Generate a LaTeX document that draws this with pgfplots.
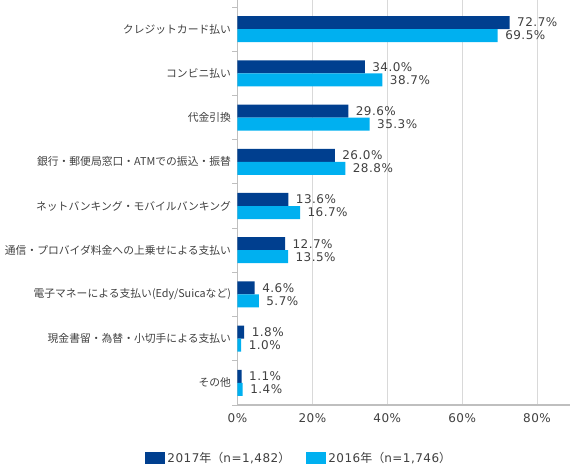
\documentclass[border=0pt]{standalone}
\usepackage{pgfplots}
\pgfplotsset{compat=1.18}
\usepackage{fontspec}
\setmainfont{DejaVu Sans}[LetterSpace=4]
\newfontfamily\jp{Noto Sans CJK JP}
\definecolor{c17}{HTML}{003F8F}
\definecolor{c16}{HTML}{00B0F0}
\definecolor{axgray}{HTML}{BFBFBF}
\definecolor{grd}{HTML}{D9D9D9}
\definecolor{txt}{HTML}{404040}
\begin{document}
\begin{tikzpicture}
\begin{axis}[
    name=ax,
    scale only axis,
    width=332.5pt, height=405pt,
    xmin=0, xmax=88.8,
    ymin=0.5, ymax=9.658,
    enlargelimits=false,
    axis x line*=bottom,
    axis y line*=left,
    axis line style={axgray, line width=1.6pt},
    xtick={0,20,40,60,80},
    xticklabels={0\%,20\%,40\%,60\%,80\%},
    xmajorgrids,
    x grid style={grd, line width=0.8pt},
    ytick={1,...,9},
    yticklabels={
        {その他},
        {現金書留・為替・小切手による支払い},
        {電子マネーによる支払い(Edy/Suicaなど)},
        {通信・プロバイダ料金への上乗せによる支払い},
        {ネットバンキング・モバイルバンキング},
        {銀行・郵便局窓口・ATMでの振込・振替},
        {代金引換},
        {コンビニ払い},
        {クレジットカード払い}},
    minor ytick={0.5,1.5,...,9.5},
    major tick length=0pt,
    minor tick length=5pt,
    tick style={axgray, line width=0.8pt},
    yticklabel style={font=\jp\fontsize{10.8}{13}\selectfont, text=txt, xshift=-3pt},
    xticklabel style={font=\fontsize{12}{14}\selectfont, text=txt, yshift=-5pt},
    xbar, bar width=13pt,
    point meta=x,
    /pgf/number format/assume math mode=true,
    nodes near coords={\pgfmathprintnumber[fixed,fixed zerofill,precision=1,assume math mode=true]{\pgfplotspointmeta}\%},
    every node near coord/.append style={font=\fontsize{12}{14}\selectfont, text=txt, anchor=west, xshift=4pt},
    legend style={at={(0.186,-0.131)}, anchor=center, draw=none, legend columns=2,
        font=\fontsize{12}{14}\selectfont, text=txt,
        /tikz/every even column/.style={column sep=14pt}},
]
\addplot[fill=c17, draw=none, bar shift=6.5pt,
    legend image code/.code={\fill[c17] (0pt,-6pt) rectangle (20pt,6pt);}]
    coordinates {(1.1,1) (1.8,2) (4.6,3) (12.7,4) (13.6,5) (26.0,6) (29.6,7) (34.0,8) (72.7,9)};
\addlegendentry{2017{\jp 年（}n=1,482{\jp ）}}
\addplot[fill=c16, draw=none, bar shift=-6.5pt,
    legend image code/.code={\fill[c16] (0pt,-6pt) rectangle (20pt,6pt);}]
    coordinates {(1.4,1) (1.0,2) (5.7,3) (13.5,4) (16.7,5) (28.8,6) (35.3,7) (38.7,8) (69.5,9)};
\addlegendentry{2016{\jp 年（}n=1,746{\jp ）}}
\end{axis}
\pgfresetboundingbox
\path[use as bounding box] (ax.south west) ++(-237.5pt,-62pt) rectangle ++(570pt,467pt);
\end{tikzpicture}
\end{document}
